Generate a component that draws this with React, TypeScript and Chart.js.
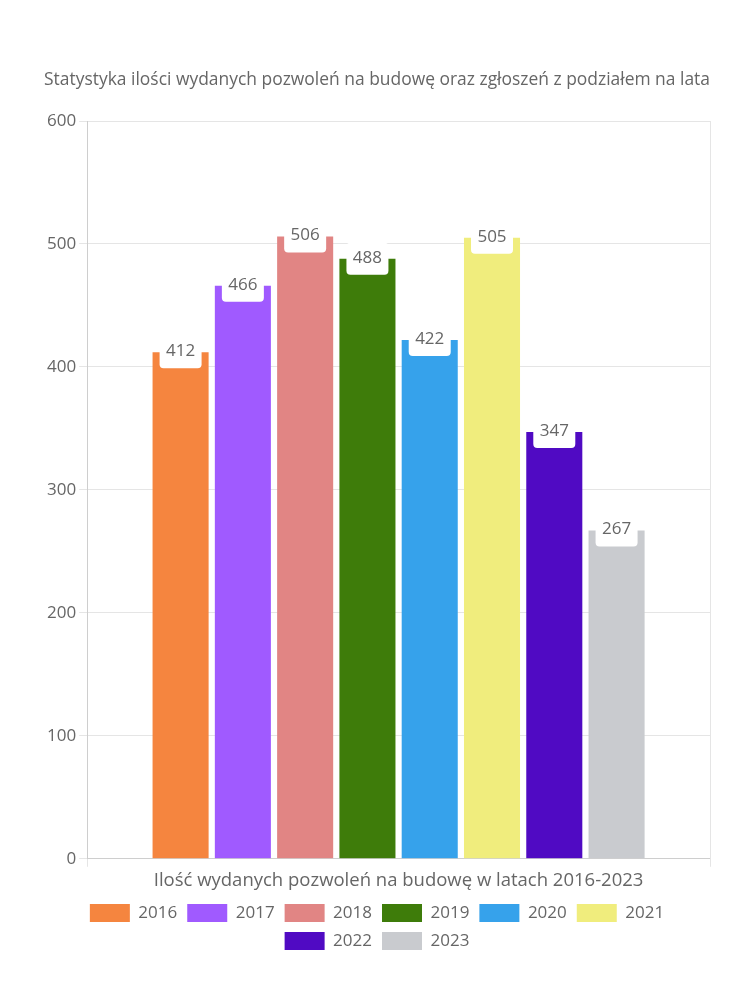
import React, { useEffect, useRef } from "react";
import { Chart, registerables } from "chart.js";

Chart.register(...registerables);

const categories = [""];
const seriesLabels = ["2016", "2017", "2018", "2019", "2020", "2021", "2022", "2023"];
const seriesValues = [412, 466, 506, 488, 422, 505, 347, 267];
const seriesColors = ["#F5853F", "#A05AFF", "#E18584", "#3E7C0A", "#36A2EB", "#F0ED7D", "#500AC3", "#C9CBCF"];
const titleText = "Statystyka ilości wydanych pozwoleń na budowę oraz zgłoszeń z podziałem na lata";
const xTitleText = "Ilość wydanych pozwoleń na budowę w latach 2016-2023";

const FONT = "'Open Sans', sans-serif";
const TEXT = "#666666";

const labelPlugin = {
  id: "valueBoxes",
  afterDatasetsDraw(chart: any) {
    const ctx = chart.ctx;
    ctx.save();
    chart.data.datasets.forEach((ds: any, i: number) => {
      const meta = chart.getDatasetMeta(i);
      if (meta.hidden) return;
      meta.data.forEach((el: any, j: number) => {
        const v = ds.data[j];
        const x = el.x;
        const y = el.y;
        const w = 42;
        const h = 32;
        ctx.fillStyle = "#ffffff";
        ctx.beginPath();
        (ctx as any).roundRect(x - w / 2, y - h / 2, w, h, 4);
        ctx.fill();
        ctx.fillStyle = TEXT;
        ctx.font = `17px ${FONT}`;
        ctx.textAlign = "center";
        ctx.textBaseline = "middle";
        ctx.fillText(String(v), x, y - 1);
      });
    });
    ctx.restore();
  },
};

export default function App() {
  const ref = useRef<HTMLCanvasElement | null>(null);
  useEffect(() => {
    if (!ref.current) return;
    const chart = new Chart(ref.current, {
      type: "bar",
      data: {
        labels: categories,
        datasets: seriesLabels.map((l, i) => ({
          label: l,
          data: [seriesValues[i]],
          backgroundColor: seriesColors[i],
          borderWidth: 0,
          barPercentage: 0.9,
          categoryPercentage: 0.8,
        })),
      },
      options: {
        animation: false,
        responsive: true,
        maintainAspectRatio: false,
        layout: { padding: { top: 0, left: 36, right: 32, bottom: 10 } },
        plugins: {
          title: {
            display: true,
            text: titleText,
            color: TEXT,
            font: { family: FONT, size: 17.5, weight: "normal" },
            padding: { top: 62, bottom: 30 },
          },
          legend: {
            position: "bottom",
            labels: {
              color: TEXT,
              font: { family: FONT, size: 17 },
              boxWidth: 40,
              boxHeight: 18,
              padding: 10,
            },
          },
          tooltip: { enabled: false },
        },
        scales: {
          x: {
            ticks: { display: false },
            grid: { color: "rgba(0,0,0,0.1)", tickLength: 8 },
            title: {
              display: true,
              text: xTitleText,
              color: TEXT,
              font: { family: FONT, size: 18.5 },
              padding: { top: 3, bottom: 2 },
            },
          },
          y: {
            min: 0,
            max: 600,
            ticks: { stepSize: 100, color: TEXT, font: { family: FONT, size: 17 } },
            grid: { color: "rgba(0,0,0,0.1)", tickLength: 8 },
          },
        },
      },
      plugins: [labelPlugin],
    });
    return () => chart.destroy();
  }, []);
  return (
    <div style={{ width: 734, height: 962, position: "relative" }}>
      <canvas ref={ref} />
    </div>
  );
}
